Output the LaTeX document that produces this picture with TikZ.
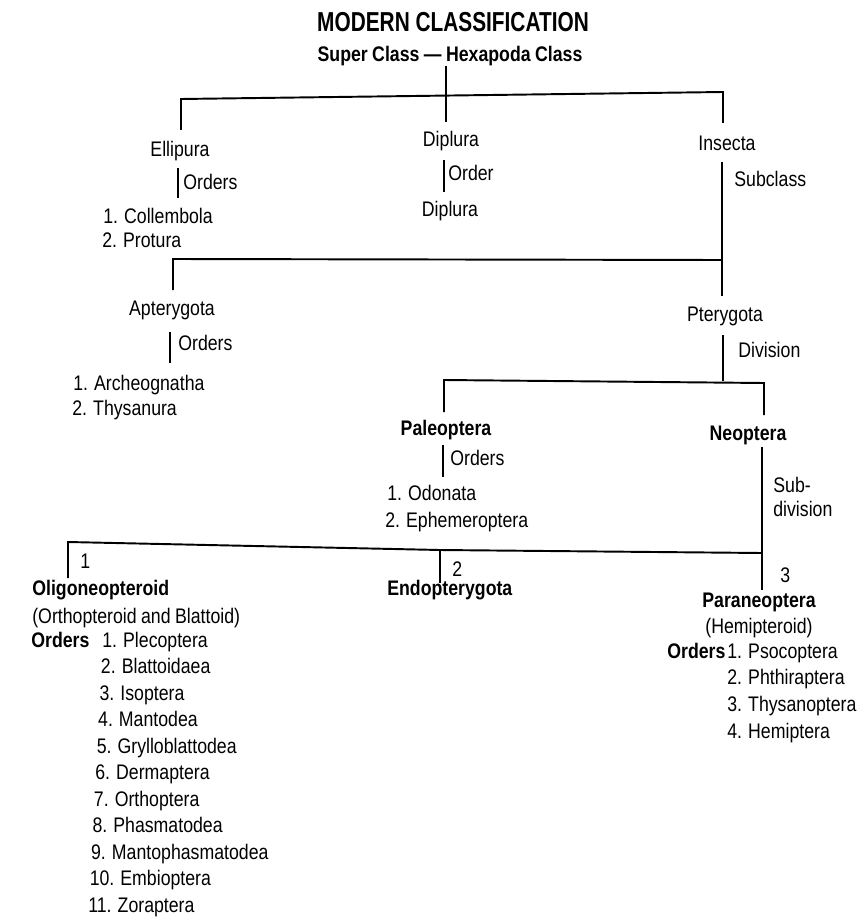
\documentclass[tikz,border=0pt]{standalone}
\usepackage{fontspec}
\setmainfont{Liberation Sans}[FakeStretch=0.84, WordSpace=0.9]
\newfontfamily\titlefont{Liberation Sans}[FakeStretch=0.76]

\tikzset{
    lbl/.style={font=\fontsize{12}{14}\selectfont, inner sep=0pt, anchor=base},
    item/.style={lbl, anchor=base west},
    bold/.style={font=\fontsize{12}{14}\selectfont\bfseries},
    link/.style={line width=0.8pt},
    bracket/.style={line width=1.1pt},
}

\begin{document}
\begin{tikzpicture}[x=0.02cm, y=-0.02cm]
    \useasboundingbox (0,0) rectangle (865,922);
    % Heading
    \node[lbl, font=\titlefont\bfseries\fontsize{15.6}{18}\selectfont] (title) at (453,32) {MODERN CLASSIFICATION};
    \node[lbl, bold] (hexapoda) at (450,62) {Super Class --- Hexapoda Class};
    % First split
    \coordinate (hexbot) at (446,66);
    \coordinate (ellitop) at (181,130);
    \coordinate (diptop) at (446,122);
    \coordinate (instop) at (723,123);
    \draw[bracket] (ellitop) -- (181,99) -- (723,92) -- (instop);
    \draw[link] (hexbot) -- (diptop);
    % Ellipura
    \node[lbl] (ellipura) at (180,157) {Ellipura};
    \draw[link] (178,168) -- (178,198);
    \node[item] (elliord) at (183,190) {Orders};
    \node[item] (collembola) at (103,223) {1. Collembola};
    \node[item] (protura) at (102,247) {2. Protura};
    % Diplura
    \node[lbl] (diplura) at (451,147) {Diplura};
    \draw[link] (444,160) -- (444,192);
    \node[item] (dipord) at (448,181) {Order};
    \node[lbl] (diplord) at (450,216) {Diplura};
    % Insecta
    \node[lbl] (insecta) at (727,151) {Insecta};
    \node[item] (subclass) at (734,187) {Subclass};
    \coordinate (instail) at (722,296);
    \draw[link] (722,162) -- (instail);
    \draw[bracket] (173,290) -- (173,259) -- (722,260);
    % Apterygota
    \node[lbl] (apterygota) at (172,315) {Apterygota};
    \draw[link] (170,332) -- (170,363);
    \node[item] (aptord) at (178,350) {Orders};
    \node[item] (archeognatha) at (73,390) {1. Archeognatha};
    \node[item] (thysanura) at (72,415) {2. Thysanura};
    % Pterygota
    \node[lbl] (pterygota) at (725,321) {Pterygota};
    \node[item] (division) at (738,357) {Division};
    \draw[link] (723,335) -- (723,381);
    \draw[bracket] (444,412) -- (444,380) -- (764,383) -- (764,415);
    % Paleoptera
    \node[lbl, bold] (paleoptera) at (446,435) {Paleoptera};
    \draw[link] (443,445) -- (443,477);
    \node[item] (paleord) at (450,465) {Orders};
    \node[item] (odonata) at (387,500) {1. Odonata};
    \node[item] (ephemeroptera) at (385,527) {2. Ephemeroptera};
    % Neoptera
    \node[lbl, bold] (neoptera) at (748,440) {Neoptera};
    \node[item] (sub) at (773,492) {Sub-};
    \node[item] (subdiv) at (773,516) {division};
    \draw[link] (762,447) -- (762,590);
    \draw[bracket] (68,578) -- (68,542) -- (440,550) -- (762,553);
    \draw[link] (440,550) -- (440,583);
    \node[item] (one) at (80,568) {1};
    \node[item] (two) at (452,576) {2};
    \node[item] (three) at (780,582) {3};
    % Oligoneopteroid
    \node[item, bold] (oligo) at (32,595) {Oligoneopteroid};
    \node[item] (orthop) at (32,623) {(Orthopteroid and Blattoid)};
    \node[item, bold] (oligord) at (31,647) {Orders};
    \foreach \name [count=\i] in {Plecoptera, Blattoidaea, Isoptera, Mantodea,
        Grylloblattodea, Dermaptera, Orthoptera, Phasmatodea, Mantophasmatodea,
        Embioptera, Zoraptera}
        \node[item] (oligo\i) at ({102-1.4*(\i-1)},{647+26.5*(\i-1)}) {\i. \name};
    % Endopterygota
    \node[item, bold] (endo) at (387,595) {Endopterygota};
    % Paraneoptera
    \node[lbl, bold] (paraneoptera) at (759,607) {Paraneoptera};
    \node[lbl] (hemipteroid) at (759,633) {(Hemipteroid)};
    \node[item, bold] (paraord) at (667,658) {Orders};
    \foreach \name [count=\i] in {Psocoptera, Phthiraptera, Thysanoptera, Hemiptera}
        \node[item] (para\i) at (727,{658+26.7*(\i-1)}) {\i. \name};
\end{tikzpicture}
\end{document}
